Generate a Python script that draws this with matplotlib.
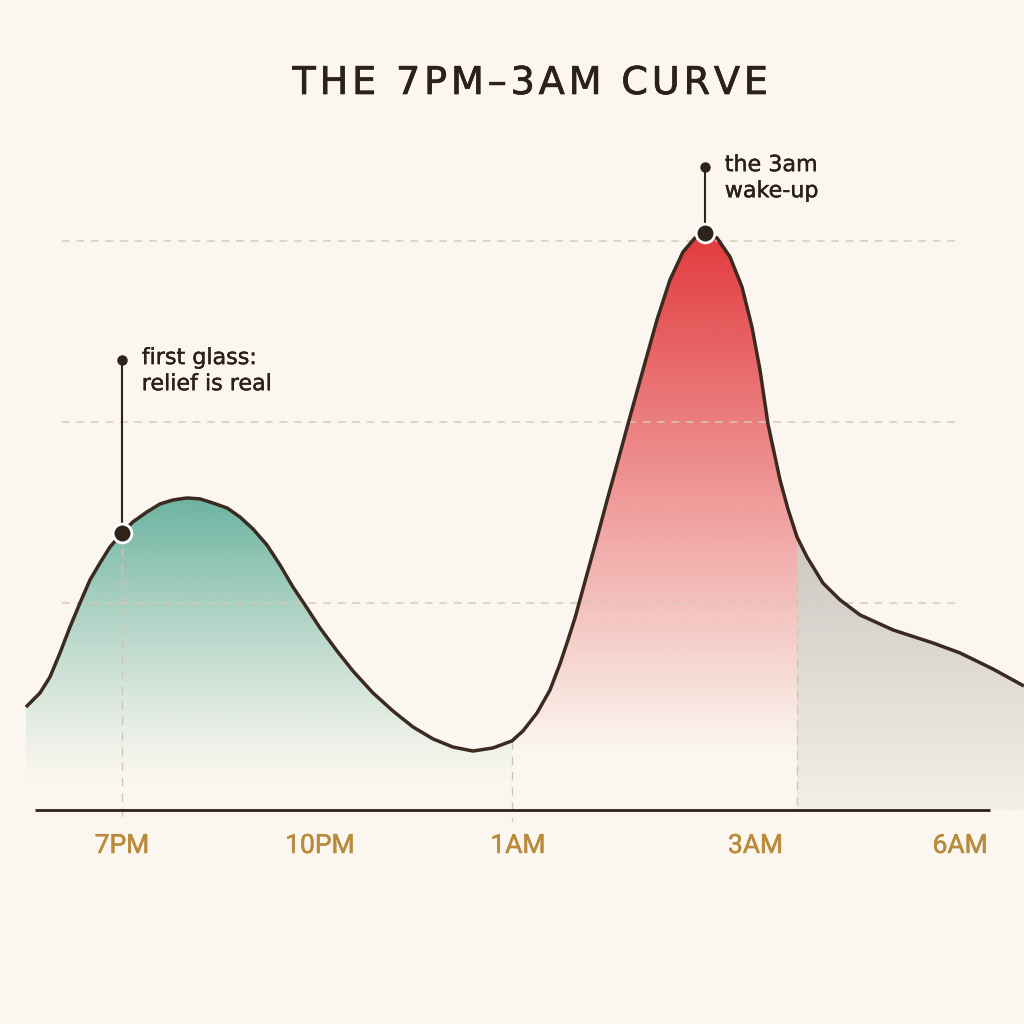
import numpy as np
import matplotlib
matplotlib.use("Agg")
import matplotlib.pyplot as plt
import matplotlib.patheffects as pe
from matplotlib.colors import to_rgb
from matplotlib.patches import Polygon

# hours after 7PM (x) and "craving" level (y)
hours = np.array([
    -1.455, -1.242, -1.091, -0.939, -0.788, -0.636, -0.485, -0.333, -0.182, 0.000,
    0.167, 0.379, 0.576, 0.773, 0.985, 1.182, 1.379, 1.591, 1.788, 1.985,
    2.197, 2.394, 2.591, 2.773, 3.000, 3.258, 3.500, 3.803, 4.106, 4.409,
    4.712, 5.015, 5.318, 5.621, 5.909, 6.076, 6.288, 6.485, 6.636, 6.758,
    6.864, 7.030, 7.197, 7.364, 7.515, 7.667, 7.894, 8.106, 8.303, 8.500,
    8.682, 8.833, 9.015, 9.212, 9.394, 9.545, 9.667, 9.788, 9.970, 10.091,
    10.227, 10.379, 10.621, 10.879, 11.182, 11.682, 12.288, 12.697, 13.197, 13.667])
level = np.array([
    4.25, 5.03, 5.91, 7.24, 8.67, 10.00, 11.27, 12.21, 13.09, 13.87,
    14.48, 15.03, 15.47, 15.69, 15.80, 15.75, 15.52, 15.25, 14.75, 14.09,
    13.20, 12.10, 10.88, 9.89, 8.62, 7.35, 6.24, 5.03, 4.03, 3.15,
    2.49, 2.04, 1.82, 1.99, 2.38, 2.93, 3.92, 5.19, 6.63, 7.96,
    9.17, 11.38, 13.59, 15.86, 17.85, 19.89, 22.87, 25.64, 27.85, 29.39,
    30.17, 30.44, 30.17, 29.12, 27.46, 25.25, 22.87, 19.89, 16.80, 15.19,
    13.65, 12.54, 11.10, 10.17, 9.34, 8.51, 7.79, 7.24, 6.35, 5.41])

tick_pos = [0, 3, 6, 9.6, 12.7]
tick_labels = ["7PM", "10PM", "1AM", "3AM", "6AM"]
grid_levels = [10, 20, 30]
guide_hours = [0, 5.909, 10.227]

notes = [
    (0.000, 13.87, 23.43, "first glass:\nrelief is real"),
    (8.833, 30.44, 34.09, "the 3am\nwake-up"),
]

BG = "#fbf7f0"
INK = "#2e2219"
BASE = -1.44

fig = plt.figure(figsize=(10.24, 10.24), dpi=100, facecolor=BG)
ax = fig.add_axes([0, 0, 1, 1])
ax.set_facecolor(BG)


def grad_fill(x0, x1, color, alpha_fn):
    m = (hours >= x0 - 1e-9) & (hours <= x1 + 1e-9)
    xs, ys = hours[m], level[m]
    verts = np.column_stack([np.r_[xs, xs[-1], xs[0]], np.r_[ys, BASE, BASE]])
    patch = Polygon(verts, closed=True, facecolor="none", edgecolor="none")
    ax.add_patch(patch)
    ytop = ys.max()
    yy = np.linspace(ytop, BASE, 400)
    img = np.zeros((400, 1, 4))
    img[..., :3] = to_rgb(color)
    img[:, 0, 3] = np.clip(alpha_fn(yy), 0, 1)
    im = ax.imshow(img, extent=[xs[0], xs[-1], BASE, ytop], origin="upper",
                   aspect="auto", interpolation="bilinear", zorder=1)
    im.set_clip_path(patch)


grad_fill(-2, 5.909, "#6cb3a0", lambda y: np.clip(y / 15.75, 0, 1) ** 1.2)
grad_fill(5.909, 10.227, "#e2393d", lambda y: (y - 1.7) / 28.7)
grad_fill(10.227, 14, "#c5c1bb", lambda y: 0.22 + 0.048 * y)

# grid
for g in grid_levels:
    ax.plot([-0.91, 12.70], [g, g], color="#d8cab6", lw=1.1,
            dashes=(5, 4.5), zorder=2)

# vertical guides down to the axis
for h in guide_hours:
    top = np.interp(h, hours, level)
    bot = BASE - 0.6 if h < 10 else BASE
    ax.plot([h, h], [top, bot], color="#d2c4b2", lw=1.0,
            dashes=(6, 5), zorder=2)

# baseline
ax.plot([-1.318, 13.15], [BASE, BASE], color=INK, lw=2.0,
        solid_capstyle="butt", zorder=3)

# curve
ax.plot(hours, level, color="#3a2a1f", lw=2.5, solid_joinstyle="round",
        solid_capstyle="butt", zorder=4)

# annotations
for hx, hy, top, txt in notes:
    ax.plot([hx, hx], [hy, top], color=INK, lw=1.5, zorder=5)
    ax.plot(hx, top, "o", color=INK, ms=6.5, zorder=6)
    ax.plot(hx, hy, "o", color=INK, ms=13.5, mec="white", mew=2, zorder=6)
    ax.text(hx + 0.30, top + 0.65, txt, ha="left", va="top", fontsize=16,
            color="#2b1f17", family="DejaVu Sans", linespacing=1.38, zorder=6,
            path_effects=[pe.withStroke(linewidth=0.3, foreground="#2b1f17")])

# tick labels
for p, lab in zip(tick_pos, tick_labels):
    ax.text(p, -3.81, lab, ha="center", va="baseline", fontsize=19,
            color="#b98b3c", family="Roboto", zorder=6,
            path_effects=[pe.withStroke(linewidth=0.4, foreground="#b98b3c")])

title = "\u200a".join("THE 7PM\u20133AM CURVE")
fig.text(530 / 1024, 1 - 94 / 1024, title, ha="center", va="baseline",
         fontsize=27.5, color="#2c2018", family="DejaVu Sans",
         path_effects=[pe.withStroke(linewidth=0.5, foreground="#2c2018")])

ax.set_xlim(-1.848, 13.667)
ax.set_ylim(-13.26, 43.31)
ax.axis("off")

fig.savefig("out.png", dpi=100, facecolor=BG)
